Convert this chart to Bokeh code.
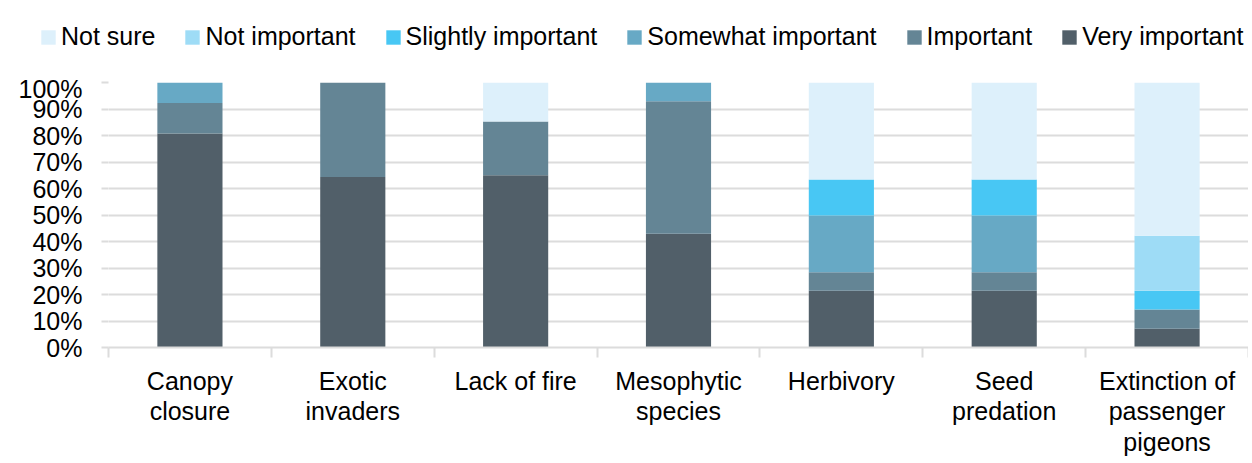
from bokeh.plotting import figure
from bokeh.layouts import column, row
from bokeh.models import ColumnDataSource, FixedTicker, NumeralTickFormatter, Legend, LegendItem, Range1d
from bokeh.embed import file_html
from bokeh.resources import INLINE

categories = ["Canopy\nclosure", "Exotic\ninvaders", "Lack of fire", "Mesophytic\nspecies",
              "Herbivory", "Seed\npredation", "Extinction of\npassenger\npigeons"]
series = ["Very important", "Important", "Somewhat important", "Slightly important", "Not important", "Not sure"]
very_important = [80.8, 64.3, 65.0, 42.9, 21.4, 21.4, 7.1]
important = [11.5, 35.7, 20.3, 50.0, 7.0, 7.0, 7.2]
somewhat_important = [7.7, 0.0, 0.0, 7.1, 21.4, 21.4, 0.0]
slightly_important = [0.0, 0.0, 0.0, 0.0, 13.6, 13.6, 7.1]
not_important = [0.0, 0.0, 0.0, 0.0, 0.0, 0.0, 20.8]
not_sure = [0.0, 0.0, 14.7, 0.0, 36.6, 36.6, 57.8]
colors = ["#515F69", "#648595", "#67A9C5", "#48C7F4", "#9EDCF6", "#DDF0FB"]

FONT = "Liberation Sans"
FS = "25px"
xpos = [i + 0.5 for i in range(len(categories))]
data = {"x": xpos}
keys = ["s0", "s1", "s2", "s3", "s4", "s5"]
for k, vals in zip(keys, [very_important, important, somewhat_important, slightly_important, not_important, not_sure]):
    data[k] = [v / 100.0 for v in vals]
source = ColumnDataSource(data)

p = figure(frame_width=1140, frame_height=265, output_backend="svg", toolbar_location=None,
           x_range=Range1d(0, len(categories)), y_range=Range1d(0, 1),
           min_border_left=108, min_border_right=0, min_border_top=8, min_border_bottom=100)
p.outline_line_color = None
p.background_fill_color = "white"
p.border_fill_color = "white"

renderers = p.vbar_stack(keys, x="x", width=0.4, source=source, color=colors, line_color=None)

# y axis
p.yaxis.ticker = FixedTicker(ticks=[i / 10 for i in range(11)])
p.yaxis.formatter = NumeralTickFormatter(format="0%")
p.yaxis.axis_line_color = None
p.yaxis.major_tick_line_color = "#dcdcdc"
p.yaxis.major_tick_line_width = 2
p.yaxis.major_tick_out = 7
p.yaxis.major_tick_in = 0
p.yaxis.minor_tick_line_color = None
p.yaxis.major_label_standoff = 19
p.yaxis.major_label_text_font = FONT
p.yaxis.major_label_text_font_size = FS
p.yaxis.major_label_text_color = "black"
p.ygrid.grid_line_color = "#dcdcdc"
p.ygrid.grid_line_width = 2

# x axis
p.xaxis.ticker = FixedTicker(ticks=xpos, minor_ticks=list(range(len(categories) + 1)))
p.xaxis.major_label_overrides = {x: c for x, c in zip(xpos, categories)}
p.xaxis.major_tick_line_color = None
p.xaxis.major_tick_out = 10
p.xaxis.major_tick_in = 0
p.xaxis.minor_tick_line_color = "#dcdcdc"
p.xaxis.minor_tick_line_width = 2
p.xaxis.minor_tick_out = 10
p.xaxis.minor_tick_in = 0
p.xaxis.axis_line_color = "#dcdcdc"
p.xaxis.axis_line_width = 2
p.xaxis.major_label_standoff = 9
p.xaxis.major_label_text_font = FONT
p.xaxis.major_label_text_font_size = FS
p.xaxis.major_label_text_color = "black"
p.xaxis.major_label_text_line_height = 1.1
p.xgrid.grid_line_color = None

# legend strip (separate figure above the chart); its bars lie outside its visible range
lf = figure(width=1248, height=74, output_backend="svg", toolbar_location=None,
            x_range=Range1d(0, len(categories)), y_range=Range1d(10, 11),
            min_border_left=0, min_border_right=0, min_border_top=0, min_border_bottom=0)
lf.axis.visible = False
lf.grid.visible = False
lf.outline_line_color = None
lf.border_fill_color = "white"
lf.background_fill_color = "white"
lrs = lf.vbar_stack(keys, x="x", width=0.4, source=source, color=colors, line_color=None)
order = [5, 4, 3, 2, 1, 0]
items = [LegendItem(label=series[i], renderers=[lrs[i]]) for i in order]
legend = Legend(items=items, orientation="horizontal", location=(39, 23),
                glyph_width=18, glyph_height=18, label_standoff=4, spacing=28,
                padding=0, margin=0, border_line_color=None, background_fill_alpha=0,
                label_text_font=FONT, label_text_font_size=FS, label_text_color="black")
lf.add_layout(legend, "center")

layout = column(row(lf), row(p), spacing=0)
open("out.html", "w").write(file_html(layout, INLINE))
